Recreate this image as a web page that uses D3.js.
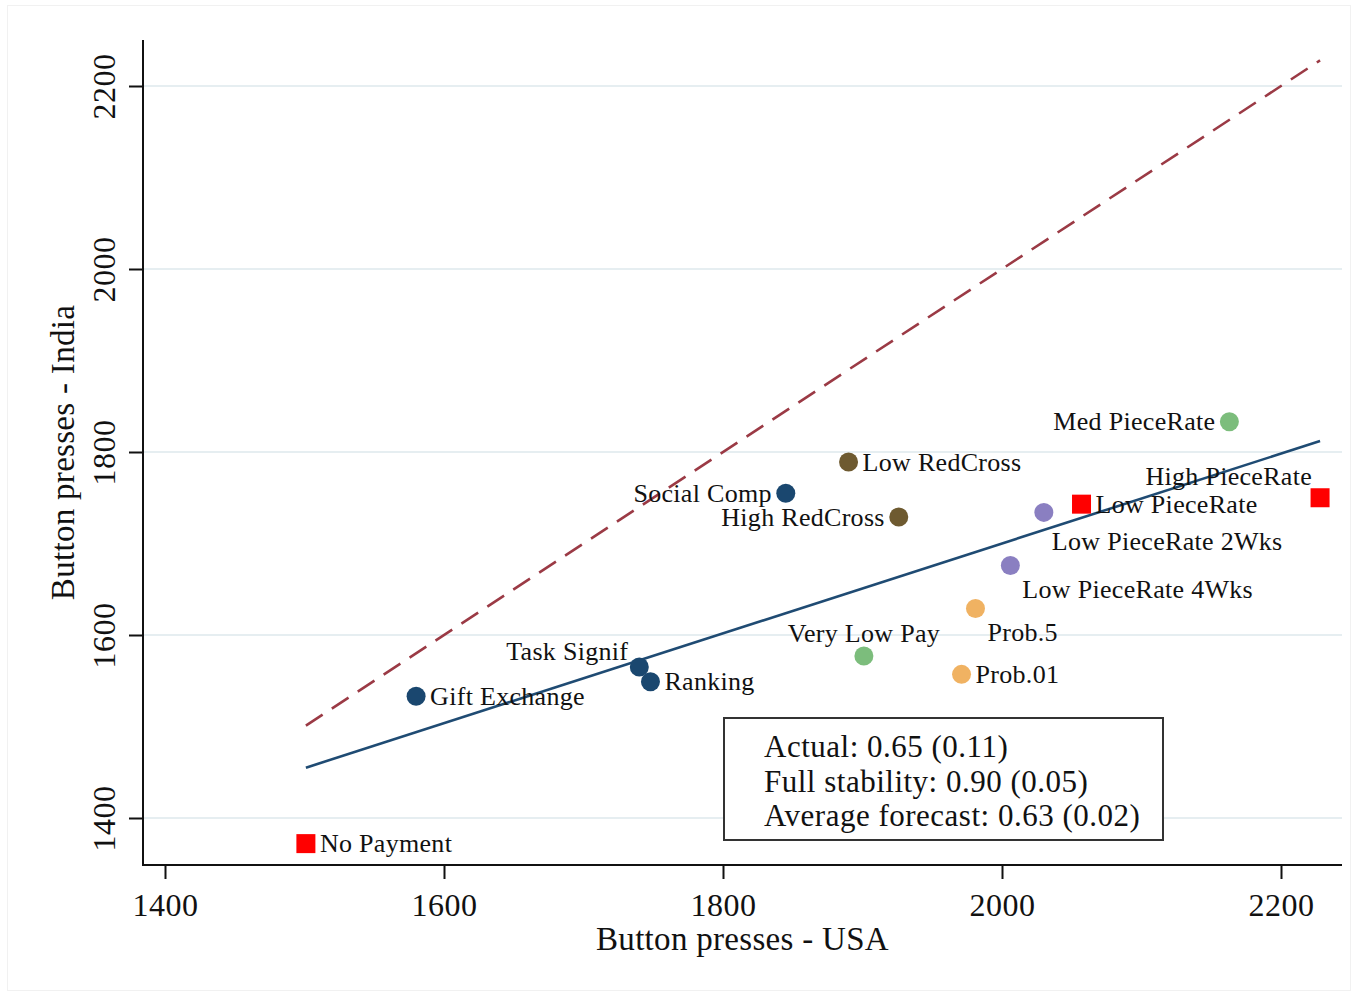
<!DOCTYPE html>
<html>
<head>
<meta charset="utf-8">
<script src="https://cdn.jsdelivr.net/npm/d3@7"></script>
<style>
  html, body { margin: 0; padding: 0; background: #fff; }
  svg { display: block; }
  text { font-family: "Liberation Serif", "Times New Roman", serif; fill: #111; }
</style>
</head>
<body>
<script>
// ---------- data ----------
const pointLabels = ["No Payment", "Gift Exchange", "Task Signif", "Ranking", "Social Comp",
  "Low RedCross", "High RedCross", "Very Low Pay", "Prob.5", "Prob.01",
  "Low PieceRate 4Wks", "Low PieceRate 2Wks", "Low PieceRate", "Med PieceRate", "High PieceRate"];
const usaPresses   = [1501, 1580, 1740, 1748, 1845, 1890, 1926, 1901, 1981, 1971, 2006, 2030, 2057, 2163, 2228];
const indiaPresses = [1372, 1533, 1565, 1549, 1755, 1789, 1729, 1577, 1629, 1557, 1676, 1734, 1743, 1833, 1750];
const pointGroup   = ["pay", "psych", "psych", "psych", "psych",
  "charity", "charity", "rate", "prob", "prob", "time", "time", "pay", "rate", "pay"];
const labelClock   = [3, 3, 10, 3, 9, 3, 9, 12, 4, 3, 4, 5, 3, 9, 11];

const fitX = [1501, 2228];
const fitY = [1455, 1812];
const stableX = [1501, 2228];
const stableY = [1501, 2228];

const xTicks = [1400, 1600, 1800, 2000, 2200];
const yTicks = [1400, 1600, 1800, 2000, 2200];

const boxLines = ["Actual: 0.65 (0.11)", "Full stability: 0.90 (0.05)", "Average forecast: 0.63 (0.02)"];
const xTitle = "Button presses - USA";
const yTitle = "Button presses - India";

// ---------- styles ----------
const groupColor = { pay: "#ff0000", psych: "#1a476f", charity: "#6e5a30", rate: "#7cbd7c", prob: "#f0b262", time: "#8a7fc1" };
const clockOffset = {
  3:  { dx: 14, dy: 0, anchor: "start" },
  9:  { dx: -14, dy: 0, anchor: "end" },
  12: { dx: 0, dy: -23, anchor: "middle" },
  4:  { dx: 12, dy: 24, anchor: "start" },
  5:  { dx: 8, dy: 29, anchor: "start" },
  10: { dx: -11, dy: -16, anchor: "end" },
  11: { dx: -8, dy: -21, anchor: "end" }
};

const W = 1358, H = 999;
const plot = { left: 143, right: 1342, top: 40, bottom: 865 };

const svg = d3.select("body").append("svg").attr("width", W).attr("height", H);
svg.append("rect").attr("x", 7.5).attr("y", 5.5).attr("width", 1343).attr("height", 985)
  .attr("fill", "#fff").attr("stroke", "#f1f1f1").attr("stroke-width", 1);

const x = d3.scaleLinear().domain([1400, 2200]).range([165, 1281]);
const y = d3.scaleLinear().domain([1400, 2200]).range([818, 86]);

// grid
svg.append("g").selectAll("line").data(yTicks).join("line")
  .attr("x1", plot.left).attr("x2", plot.right)
  .attr("y1", d => y(d)).attr("y2", d => y(d))
  .attr("stroke", "#e6eef1").attr("stroke-width", 2);

// axes
const xAxis = svg.append("g").attr("transform", `translate(0,${plot.bottom})`)
  .call(d3.axisBottom(x).tickValues(xTicks).tickSize(14).tickPadding(14).tickFormat(d3.format("d")));
xAxis.select(".domain").remove();
xAxis.selectAll(".tick line").attr("stroke", "#111").attr("stroke-width", 2);
xAxis.selectAll(".tick text").attr("font-size", 32).attr("letter-spacing", "0.5px").attr("fill", "#111")
  .attr("font-family", "Liberation Serif").attr("dy", "0.71em");

const yAxis = svg.append("g").attr("transform", `translate(${plot.left},0)`)
  .call(d3.axisLeft(y).tickValues(yTicks).tickSize(14).tickFormat(d3.format("d")));
yAxis.select(".domain").remove();
yAxis.selectAll(".tick line").attr("stroke", "#111").attr("stroke-width", 2);
yAxis.selectAll(".tick text").remove();
yAxis.selectAll(".tick").append("text")
  .attr("transform", "translate(-28,0) rotate(-90)")
  .attr("text-anchor", "middle").attr("font-size", 32).attr("letter-spacing", "0.5px").attr("fill", "#111")
  .text(d => d3.format("d")(d));

svg.append("line").attr("x1", plot.left).attr("x2", plot.left).attr("y1", plot.top).attr("y2", plot.bottom + 1)
  .attr("stroke", "#111").attr("stroke-width", 2);
svg.append("line").attr("x1", plot.left - 1).attr("x2", plot.right).attr("y1", plot.bottom).attr("y2", plot.bottom)
  .attr("stroke", "#111").attr("stroke-width", 2);

// titles
svg.append("text").attr("x", (plot.left + plot.right) / 2).attr("y", 950)
  .attr("text-anchor", "middle").attr("font-size", 33).attr("letter-spacing", "0.3px").text(xTitle);
svg.append("text").attr("transform", `translate(74,${(plot.top + plot.bottom) / 2}) rotate(-90)`)
  .attr("text-anchor", "middle").attr("font-size", 33).attr("letter-spacing", "0.3px").text(yTitle);

// lines
const line = d3.line().x(d => x(d[0])).y(d => y(d[1]));
svg.append("path").datum(stableX.map((v, i) => [v, stableY[i]]))
  .attr("d", line).attr("fill", "none").attr("stroke", "#9b3a45").attr("stroke-width", 2.6)
  .attr("stroke-dasharray", "20,11");
svg.append("path").datum(fitX.map((v, i) => [v, fitY[i]]))
  .attr("d", line).attr("fill", "none").attr("stroke", "#1f4b73").attr("stroke-width", 2.6);

// points
const pts = pointLabels.map((lab, i) => ({ lab, ux: usaPresses[i], iy: indiaPresses[i], g: pointGroup[i], c: labelClock[i] }));
const gp = svg.append("g");
gp.selectAll("circle").data(pts.filter(d => d.g !== "pay")).join("circle")
  .attr("cx", d => x(d.ux)).attr("cy", d => y(d.iy)).attr("r", 9.5)
  .attr("fill", d => groupColor[d.g]);
gp.selectAll("rect").data(pts.filter(d => d.g === "pay")).join("rect")
  .attr("x", d => x(d.ux) - 9.5).attr("y", d => y(d.iy) - 9.5).attr("width", 19).attr("height", 19)
  .attr("fill", d => groupColor[d.g]);

// labels
svg.append("g").selectAll("text").data(pts).join("text")
  .attr("x", d => x(d.ux) + clockOffset[d.c].dx)
  .attr("y", d => y(d.iy) + clockOffset[d.c].dy)
  .attr("dy", "0.33em")
  .attr("text-anchor", d => clockOffset[d.c].anchor)
  .attr("font-size", 26).attr("letter-spacing", "0.3px")
  .text(d => d.lab);

// annotation box
svg.append("rect").attr("x", 724).attr("y", 718).attr("width", 439).attr("height", 122)
  .attr("fill", "#fff").attr("stroke", "#333").attr("stroke-width", 2);
svg.append("g").selectAll("text").data(boxLines).join("text")
  .attr("x", 764).attr("y", (d, i) => 757 + i * 34.5)
  .attr("font-size", 31).attr("letter-spacing", "0.5px").text(d => d);
</script>
</body>
</html>
